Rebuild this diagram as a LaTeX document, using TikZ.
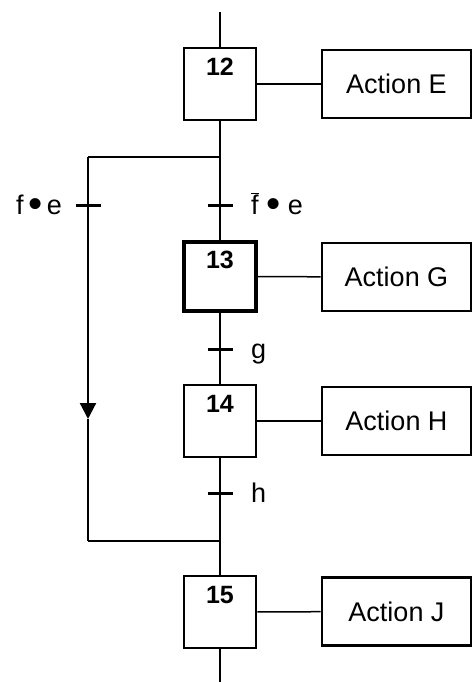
\documentclass[tikz,border=0pt]{standalone}
\usepackage{fontspec}
\setmainfont{Liberation Sans}
\usetikzlibrary{arrows.meta}
\newcommand{\bigdot}{\raisebox{-0.25ex}{\scalebox{1.5}{•}}}
\begin{document}
\begin{tikzpicture}[x=1pt,y=-1pt,
  stepbox/.style={draw,line width=2.6pt,minimum width=72pt,minimum height=72pt,inner sep=0pt},
  initbox/.style={stepbox,line width=3.4pt,minimum height=69pt},
  actbox/.style={draw,line width=2.6pt,minimum width=149pt,minimum height=68pt,inner sep=0pt,font=\fontsize{27}{30}\selectfont},
  num/.style={font=\bfseries\fontsize{25}{28}\selectfont,inner sep=0pt},
  lab/.style={font=\fontsize{27}{30}\selectfont,inner sep=0pt},
  link/.style={line width=1.5pt},
  flow/.style={line width=2.2pt},
  tick/.style={line width=3pt}]
\useasboundingbox (0,0) rectangle (473,682);
% steps
\node[stepbox] (s12) at (220,84) {};
\node[initbox] (s13) at (220,276.5) {};
\node[stepbox] (s14) at (220,421) {};
\node[stepbox] (s15) at (220,612) {};
\node[num] (n12) at (220,67) {12};
\node[num] (n13) at (220,260) {13};
\node[num] (n14) at (220,404) {14};
\node[num] (n15) at (220,595) {15};
% actions
\node[actbox] (aE) at (396.5,84) {Action E};
\node[actbox] (aG) at (396.5,277) {Action G};
\node[actbox] (aH) at (396.5,421) {Action H};
\node[actbox] (aJ) at (396.5,611.5) {Action J};
\draw[link] (s12) -- (aE);
\draw[link] (s13) -- (aG);
\draw[link] (s14) -- (aH);
\draw[link] (s15) -- (aJ);
% main line
\coordinate (top) at (220,12);
\coordinate (bot) at (220,682);
\draw[flow] (top) -- (s12.north);
\draw[flow] (s12.south) -- (s13.north);
\draw[flow] (s13.south) -- (s14.north);
\draw[flow] (s14.south) -- (s15.north);
\draw[flow] (s15.south) -- (bot);
% branch
\coordinate (b1) at (220,157);
\coordinate (b1l) at (88,157);
\coordinate (arr) at (88,419);
\coordinate (b2l) at (88,541);
\coordinate (b2) at (220,541);
\draw[link] (b1) -- (b1l);
\draw[flow] (b1l) -- (88,200);
\draw[flow,-{Triangle[width=16pt,length=16pt]}] (88,200) -- (arr);
\draw[flow] (arr) -- (b2l);
\draw[link] (b2l) -- (b2);
% transitions
\coordinate (tL) at (88,205);
\coordinate (tR) at (220,205);
\coordinate (tG) at (220,349);
\coordinate (tH) at (220,493);
\foreach \t in {tL,tR,tG,tH}
  \draw[tick] ([xshift=-12.5pt]\t) -- ([xshift=12.5pt]\t);
\node[lab,anchor=base east] (lL) at (62,214) {f\,\bigdot\,e};
\node[lab,anchor=base west] (lR) at (251,214) {$\overline{\mbox{f}}$ \bigdot\ e};
\node[lab,anchor=base west] (lG) at (251,358) {g};
\node[lab,anchor=base west] (lH) at (251,502) {h};
\end{tikzpicture}
\end{document}
